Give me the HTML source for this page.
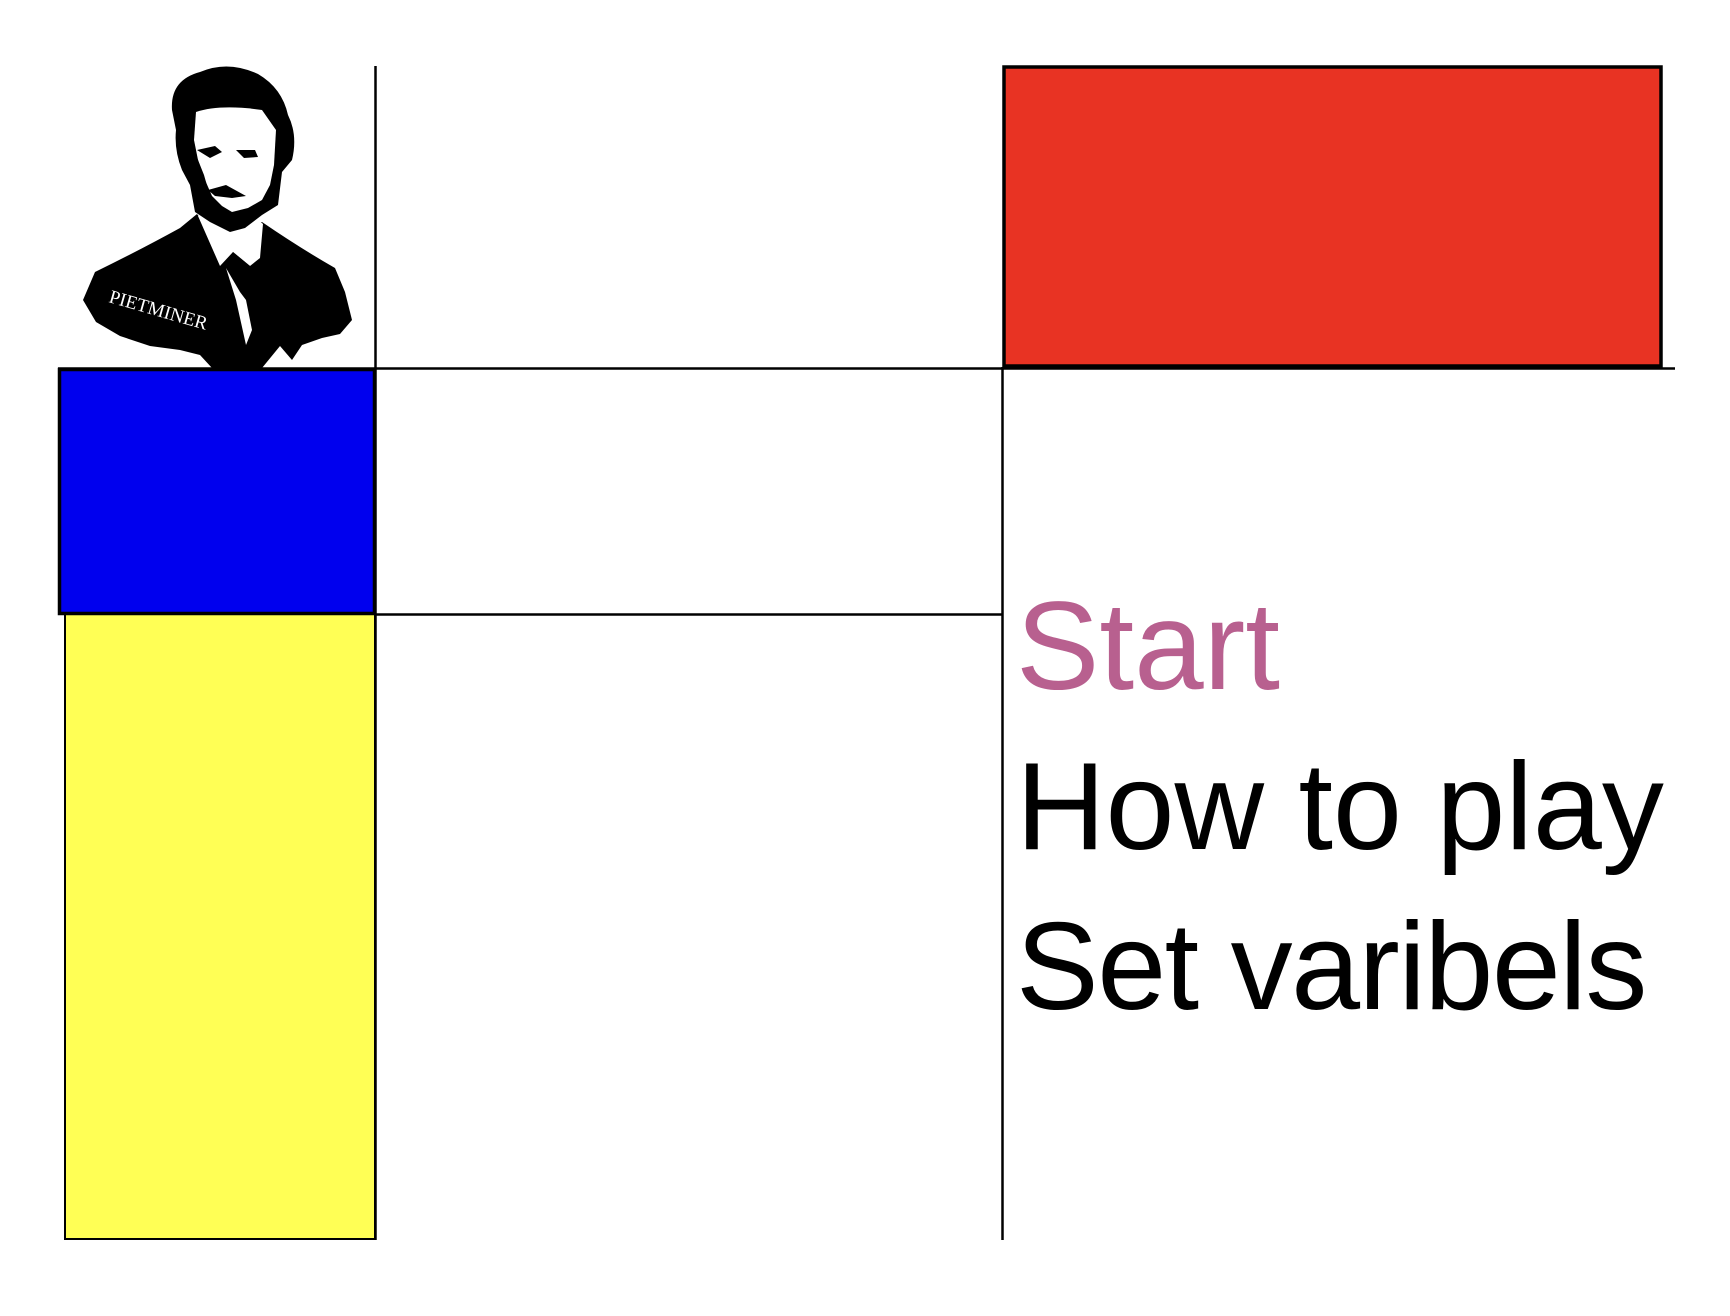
<!DOCTYPE html>
<html><head><meta charset="utf-8"><style>
html,body{margin:0;padding:0;background:#fff;}
body{width:1730px;height:1316px;position:relative;overflow:hidden;}
svg{position:absolute;left:0;top:0;}
.t{font-family:"Liberation Sans",sans-serif;}
</style></head><body>
<svg width="1730" height="1316" viewBox="0 0 1730 1316">
  <rect x="65" y="614" width="310" height="625" fill="#ffff55" stroke="#000" stroke-width="2"/>
  <rect x="59.5" y="369.5" width="315" height="244" fill="#0000ee" stroke="#000" stroke-width="3.5"/>
  <rect x="1004" y="67" width="657" height="299" fill="#e83323" stroke="#000" stroke-width="3.5"/>
  <line x1="375.5" y1="66" x2="375.5" y2="1240" stroke="#000" stroke-width="2.5"/>
  <line x1="1002.5" y1="367" x2="1002.5" y2="1240" stroke="#000" stroke-width="2.5"/>
  <line x1="58" y1="368.5" x2="1675" y2="368.5" stroke="#000" stroke-width="2.5"/>
  <line x1="375" y1="614.5" x2="1002" y2="614.5" stroke="#000" stroke-width="2.5"/>

  <g>
    <path fill="#000" d="M83,300 L95,272 Q140,250 180,228 L197,214 L215,238 L235,225 L262,222 Q300,248 335,268 L345,292 L352,320 L340,334 L322,338 L302,345 L292,360 L280,346 L262,368 L212,368 L200,355 L180,350 L150,346 L120,336 L96,322 Z"/>
    <path fill="#fff" d="M198,216 L220,266 L233,252 L250,266 L260,258 L263,224 L250,212 Z"/>
    <path fill="#000" d="M233,252 L250,266 L246,300 L240,290 L228,264 Z"/>
    <path fill="#fff" d="M226,268 L240,292 L246,300 L252,330 L246,345 L236,300 Z"/>
    <path fill="#000" d="M172,110 Q170,80 200,72 Q228,60 258,74 Q282,88 288,115 Q298,135 292,160 L282,172 L278,205 L262,215 L245,228 L230,232 L210,222 L195,212 L190,185 L182,170 Q174,150 176,130 Z"/>
    <path fill="#fff" d="M196,112 Q220,104 262,110 L276,130 L274,165 L270,185 L262,200 L248,208 L232,212 L222,206 L212,196 L205,180 L198,160 L194,140 Z"/>
    <path fill="#000" d="M197,150 L215,146 L222,152 L210,158 Z M236,150 L255,150 L258,157 L244,158 Z M208,190 L226,185 L246,196 L232,198 L215,196 Z M194,150 L204,175 L210,196 L214,210 L200,205 Z"/>
    <text x="108" y="302" transform="rotate(16 108 302)" fill="#fff" font-family="Liberation Serif, serif" font-size="19">PIETMINER</text>
  </g>

  <text class="t" x="1016" y="689" font-size="125" fill="#b8608f">Start</text>
  <text class="t" x="1016" y="849" font-size="124" fill="#000">How to play</text>
  <text class="t" x="1016" y="1009" font-size="124" fill="#000" letter-spacing="-1.5">Set varibels</text>
</svg>
</body></html>
